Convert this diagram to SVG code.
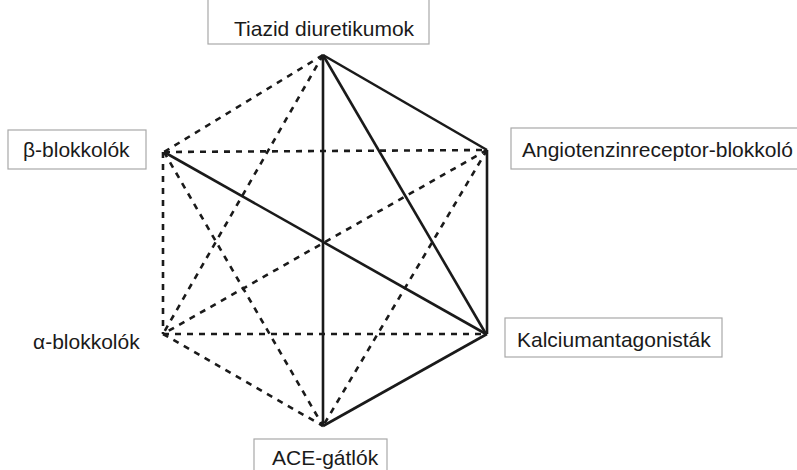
<svg xmlns="http://www.w3.org/2000/svg" width="797" height="470" viewBox="0 0 797 470">
<style>
.box{fill:#fff;stroke:#a8a8a8;stroke-width:1.2}
.lbl{font-family:"Liberation Sans",Arial,sans-serif;font-size:21px;fill:#1a1a1a}
.solid{stroke:#1a1a1a;stroke-width:2.6;fill:none;stroke-linecap:butt}
.dash{stroke:#1a1a1a;stroke-width:2.6;fill:none;stroke-dasharray:6 6}
</style>
<rect width="797" height="470" fill="#fff"/>
<g id="connectors">
<line class="dash" x1="323" y1="55" x2="164" y2="152"/>
<line class="dash" x1="323" y1="55" x2="163" y2="334"/>
<line class="dash" x1="164" y1="152" x2="487" y2="150"/>
<line class="dash" x1="163" y1="152" x2="163" y2="334"/>
<line class="dash" x1="164" y1="152" x2="323" y2="426"/>
<line class="dash" x1="487" y1="150" x2="163" y2="334"/>
<line class="dash" x1="487" y1="150" x2="323" y2="426"/>
<line class="dash" x1="163" y1="334" x2="486" y2="334"/>
<line class="dash" x1="163" y1="334" x2="323" y2="426"/>
<line class="solid" x1="323" y1="55" x2="487" y2="150"/>
<line class="solid" x1="323" y1="55" x2="486" y2="334"/>
<line class="solid" x1="323" y1="55" x2="323" y2="426"/>
<line class="solid" x1="487" y1="150" x2="487" y2="334"/>
<line class="solid" x1="164" y1="152" x2="486" y2="334"/>
<line class="solid" x1="323" y1="426" x2="487" y2="334"/>
</g>
<g id="tiazid">
<rect class="box" x="208" y="-2" width="221" height="46"/>
<text class="lbl" x="234" y="36">Tiazid diuretikumok</text>
</g>
<g id="beta">
<rect class="box" x="8" y="130" width="138" height="39"/>
<text class="lbl" x="23" y="157">β-blokkolók</text>
</g>
<g id="angiotenzin">
<rect class="box" x="511" y="128" width="300" height="41"/>
<text class="lbl" x="522" y="157">Angiotenzinreceptor-blokkoló</text>
</g>
<g id="alpha">
<text class="lbl" x="33" y="349">α-blokkolók</text>
</g>
<g id="kalcium">
<rect class="box" x="505" y="318" width="217" height="39"/>
<text class="lbl" x="517" y="347">Kalciumantagonisták</text>
</g>
<g id="ace">
<rect class="box" x="254" y="439" width="133" height="40"/>
<text class="lbl" x="272" y="465">ACE-gátlók</text>
</g>
</svg>
